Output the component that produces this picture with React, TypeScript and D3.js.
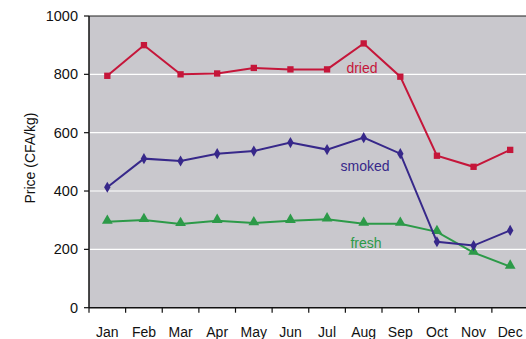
import React from "react";
import * as d3 from "d3";

const months = ["Jan","Feb","Mar","Apr","May","Jun","Jul","Aug","Sep","Oct","Nov","Dec"];
const dried = [795, 900, 800, 803, 822, 817, 817, 906, 792, 521, 483, 541];
const smoked = [413, 511, 503, 528, 537, 566, 542, 583, 528, 226, 213, 265];
const fresh = [295, 301, 287, 298, 290, 298, 303, 288, 288, 260, 189, 141];
const yTicks = [0, 200, 400, 600, 800, 1000];

const W = 526, H = 339;
const left = 89, top = 16, bottom = 307.7, right = 528.5;

export default function App() {
  const x = d3.scaleBand<string>().domain(months).range([left, right]);
  const y = d3.scaleLinear().domain([0, 1000]).range([bottom, top]);
  const cx = (m: string) => (x(m) as number) + x.bandwidth() / 2;
  const line = d3.line<number>().x((_, i) => cx(months[i])).y((d) => y(d));
  const font = "Liberation Sans, Arial, sans-serif";

  const cRed = "#C5163A", cBlue = "#37288A", cGreen = "#2C9A48";
  const sq = d3.symbol().type(d3.symbolSquare).size(40)()!;
  const dia = d3.symbol().type(d3.symbolDiamond).size(36)()!;
  const tri = d3.symbol().type(d3.symbolTriangle).size(50)()!;

  return (
    <svg width={W} height={H} style={{ position: "absolute", left: 0, top: 0 }}>
      <rect x={0} y={0} width={W} height={H} fill="#fff" />
      <rect x={left} y={top} width={right - left} height={bottom - top} fill="#C9C8CD" />
      {yTicks.filter((t) => t > 0 && t < 1000).map((t) => (
        <line key={t} x1={left} x2={right} y1={y(t)} y2={y(t)} stroke="#fff" strokeWidth={1.2} />
      ))}
      <line x1={left} x2={right} y1={top} y2={top} stroke="#222" strokeWidth={1.2} />
      <line x1={left} x2={left} y1={top} y2={bottom} stroke="#111" strokeWidth={1.5} />
      <line x1={left} x2={right} y1={bottom} y2={bottom} stroke="#111" strokeWidth={1.5} />
      {yTicks.map((t) => (
        <g key={t}>
          <line x1={left - 5} x2={left} y1={y(t)} y2={y(t)} stroke="#111" strokeWidth={1.2} />
          <text x={left - 11} y={y(t) + 5} textAnchor="end" fontSize={14.5} fontFamily={font} fill="#111">{t}</text>
        </g>
      ))}
      {months.map((m) => (
        <g key={m}>
          <line x1={x(m)} x2={x(m)} y1={bottom} y2={bottom + 5} stroke="#111" strokeWidth={1.2} />
          <text x={cx(m)} y={337} textAnchor="middle" fontSize={14} fontFamily={font} fill="#111">{m}</text>
        </g>
      ))}
      <text transform={`translate(35,158) rotate(-90)`} textAnchor="middle" fontSize={14} fontFamily={font} fill="#111">Price (CFA/kg)</text>

      <path d={line(fresh)!} fill="none" stroke={cGreen} strokeWidth={2} />
      {fresh.map((v, i) => (
        <path key={i} d={tri} transform={`translate(${cx(months[i])},${y(v) - 1})`} fill={cGreen} />
      ))}
      <path d={line(smoked)!} fill="none" stroke={cBlue} strokeWidth={2} />
      {smoked.map((v, i) => (
        <path key={i} d={dia} transform={`translate(${cx(months[i])},${y(v)})`} fill={cBlue} />
      ))}
      <path d={line(dried)!} fill="none" stroke={cRed} strokeWidth={2} />
      {dried.map((v, i) => (
        <path key={i} d={sq} transform={`translate(${cx(months[i])},${y(v)})`} fill={cRed} />
      ))}

      <text x={362} y={73} textAnchor="middle" fontSize={14} fontFamily={font} fill={cRed}>dried</text>
      <text x={365} y={171} textAnchor="middle" fontSize={14} fontFamily={font} fill={cBlue}>smoked</text>
      <text x={366} y={248} textAnchor="middle" fontSize={14} fontFamily={font} fill={cGreen}>fresh</text>
    </svg>
  );
}
